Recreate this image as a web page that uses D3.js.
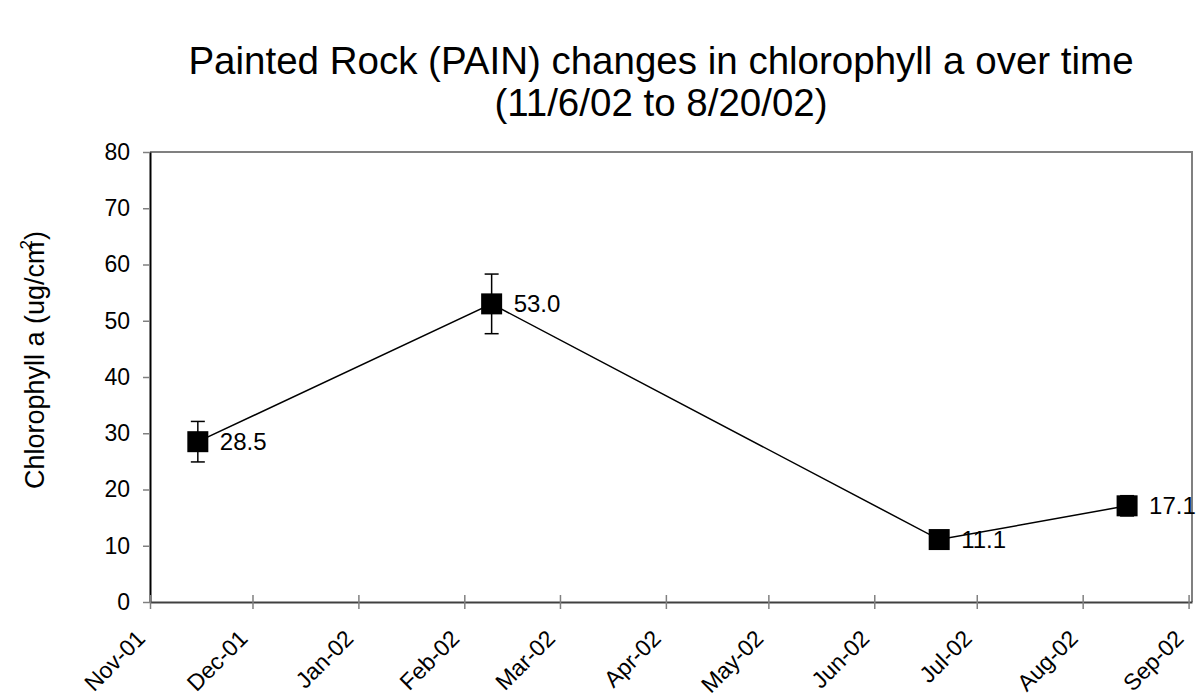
<!DOCTYPE html>
<html>
<head>
<meta charset="utf-8">
<script src="https://cdn.jsdelivr.net/npm/d3@7"></script>
<style>
  body { margin: 0; background: #fff; }
  text { font-family: "Liberation Sans", Arial, sans-serif; }
</style>
</head>
<body>
<script>
// sample dates, chlorophyll values and error bar half-widths
var dates = ["2001-11-15", "2002-02-09", "2002-06-20", "2002-08-14"];
var values = [28.5, 53.0, 11.1, 17.1];
var errors = [3.6, 5.3, 1.0, 1.8];
var yTicks = [0, 10, 20, 30, 40, 50, 60, 70, 80];
var monthTicks = ["2001-11-01", "2001-12-01", "2002-01-01", "2002-02-01", "2002-03-01",
  "2002-04-01", "2002-05-01", "2002-06-01", "2002-07-01", "2002-08-01", "2002-09-01"];

var width = 1201;
var height = 700;
var margin = { top: 152, left: 150, right: 9, bottom: 98 };

var parse = d3.timeParse("%Y-%m-%d");
var data = dates.map(function(d, i) {
  return { date: parse(d), value: values[i], err: errors[i] };
});

var xScale = d3.scaleTime()
  .domain([parse("2001-11-01"), parse("2002-09-02")])
  .range([margin.left, width - margin.right]);

var yScale = d3.scaleLinear()
  .domain([0, 80])
  .range([height - margin.bottom, margin.top]);

var svg = d3.select("body").append("svg")
  .attr("width", width)
  .attr("height", height);

// title
var title = svg.append("text")
  .attr("text-anchor", "middle")
  .style("font-size", "38.5px");
title.append("tspan").attr("x", 661).attr("y", 74).text("Painted Rock (PAIN) changes in chlorophyll a over time");
title.append("tspan").attr("x", 661).attr("y", 116).text("(11/6/02 to 8/20/02)");

// plot frame top and right
svg.append("path")
  .attr("d", "M" + margin.left + "," + margin.top + "H" + (width - margin.right) + "V" + (height - margin.bottom))
  .attr("fill", "none")
  .attr("stroke", "#808080")
  .attr("stroke-width", 2);

// y axis
var yAxis = svg.append("g")
  .attr("transform", "translate(" + margin.left + ",0)")
  .call(d3.axisLeft(yScale).tickValues(yTicks).tickSizeInner(7).tickSizeOuter(0).tickPadding(13));
yAxis.select(".domain").attr("stroke", "#000").attr("stroke-width", 2);
yAxis.selectAll(".tick line").attr("stroke", "#808080").attr("stroke-width", 1.5);
yAxis.selectAll(".tick text").style("font-size", "23px").attr("fill", "#000")
  .style("font-family", "Liberation Sans, Arial, sans-serif");

// x axis
var xAxis = svg.append("g")
  .attr("transform", "translate(0," + (height - margin.bottom) + ")")
  .call(d3.axisBottom(xScale)
    .tickValues(monthTicks.map(parse))
    .tickFormat(d3.timeFormat("%b-%y"))
    .tickSizeInner(7).tickSizeOuter(0));
xAxis.select(".domain").attr("stroke", "#404040").attr("stroke-width", 2);
xAxis.selectAll(".tick line").attr("stroke", "#808080").attr("y1", -7).attr("y2", 7).attr("stroke-width", 1.5);
xAxis.selectAll(".tick text")
  .style("font-size", "23px")
  .style("font-family", "Liberation Sans, Arial, sans-serif")
  .attr("fill", "#000")
  .attr("text-anchor", "end")
  .attr("dy", null)
  .attr("transform", "translate(-4,38) rotate(-45)")
  .attr("y", 0)
  .attr("x", 0);

// y axis label
var yLabel = svg.append("text")
  .attr("text-anchor", "middle")
  .attr("transform", "translate(44,360) rotate(-90)")
  .style("font-size", "27px");
yLabel.append("tspan").text("Chlorophyll a (ug/cm");
yLabel.append("tspan").attr("dy", -12).attr("dx", -8).style("font-size", "17px").text("2");
yLabel.append("tspan").attr("dy", 12).text(")");

// line
var valueline = d3.line()
  .x(function(d) { return xScale(d.date); })
  .y(function(d) { return yScale(d.value); });

svg.append("path")
  .datum(data)
  .attr("fill", "none")
  .attr("stroke", "#000")
  .attr("stroke-width", 1.5)
  .attr("d", valueline);

// error bars
var eb = svg.append("g").selectAll("g").data(data).enter().append("g");
eb.append("line")
  .attr("x1", function(d) { return xScale(d.date); })
  .attr("x2", function(d) { return xScale(d.date); })
  .attr("y1", function(d) { return yScale(d.value + d.err); })
  .attr("y2", function(d) { return yScale(d.value - d.err); })
  .attr("stroke", "#000").attr("stroke-width", 1.5);
[1, -1].forEach(function(s) {
  eb.append("line")
    .attr("x1", function(d) { return xScale(d.date) - 7; })
    .attr("x2", function(d) { return xScale(d.date) + 7; })
    .attr("y1", function(d) { return yScale(d.value + s * d.err); })
    .attr("y2", function(d) { return yScale(d.value + s * d.err); })
    .attr("stroke", "#000").attr("stroke-width", 1.5);
});

// markers
svg.append("g").selectAll("rect").data(data).enter().append("rect")
  .attr("x", function(d) { return xScale(d.date) - 10.5; })
  .attr("y", function(d) { return yScale(d.value) - 10.5; })
  .attr("width", 21)
  .attr("height", 21)
  .attr("fill", "#000");

// value labels
svg.append("g").selectAll("text").data(data).enter().append("text")
  .attr("x", function(d) { return xScale(d.date) + 22; })
  .attr("y", function(d) { return yScale(d.value) + 8.5; })
  .style("font-size", "24px")
  .text(function(d) { return d.value.toFixed(1); });
</script>
</body>
</html>
